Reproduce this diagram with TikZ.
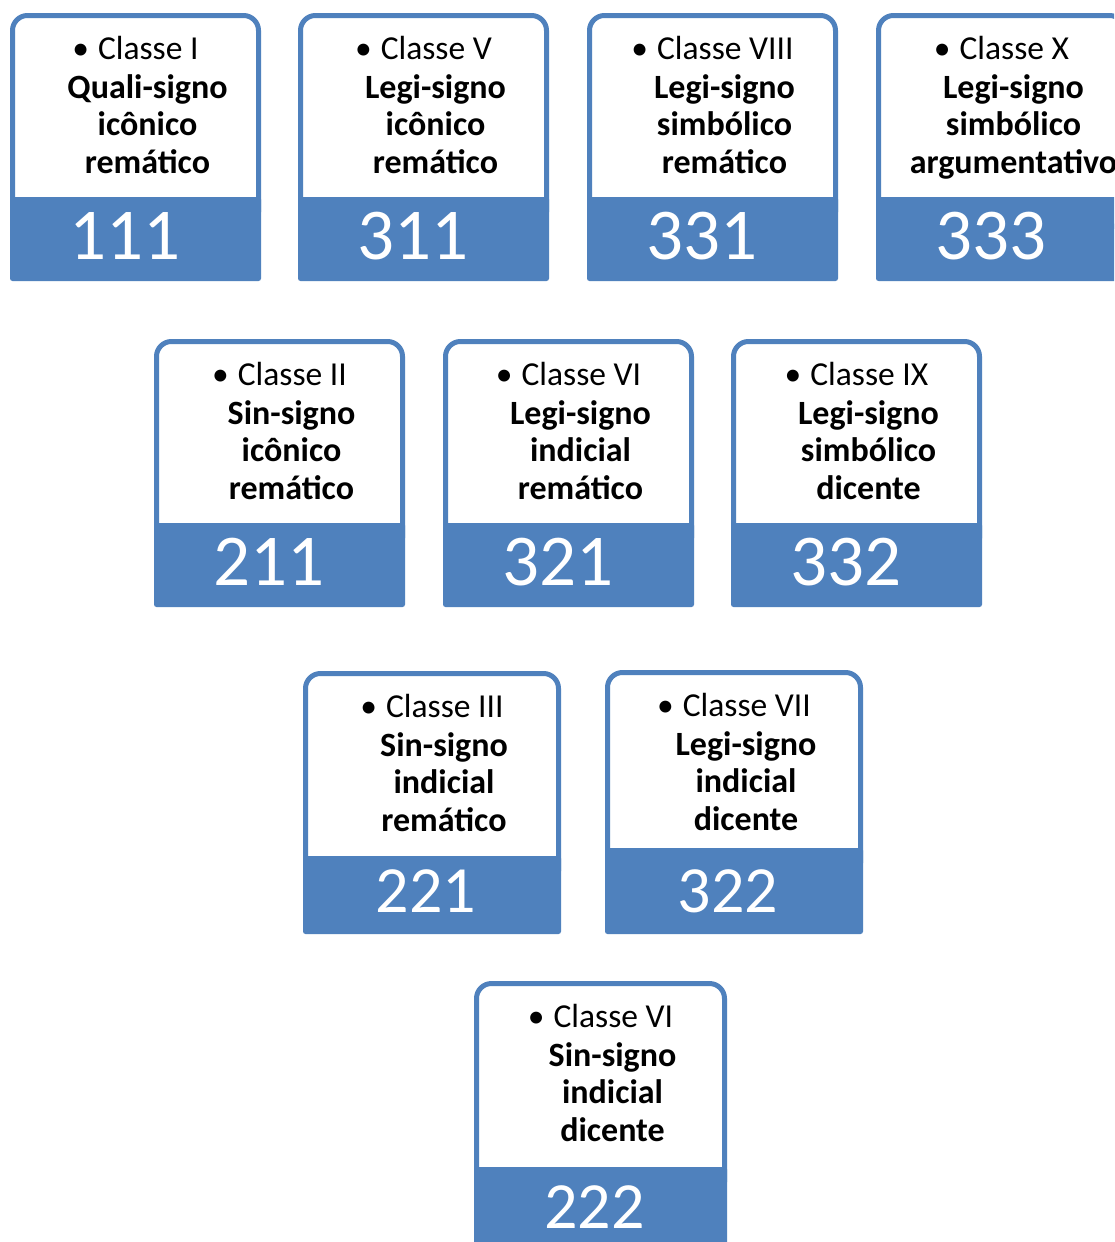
\documentclass[tikz,border=0pt]{standalone}
\usepackage{fontspec}
\setmainfont{Carlito}
\definecolor{accent}{HTML}{4F81BD}
\tikzset{
  frame/.style={draw=accent, line width=5pt, fill=white, rounded corners=15pt},
  band/.style={fill=accent, rounded corners=2.5pt},
  head/.style={anchor=base, font=\fontsize{33.5}{38}\selectfont, inner sep=0pt},
  body/.style={anchor=base, font=\fontsize{34}{38}\selectfont\bfseries, inner sep=0pt},
  num/.style={anchor=base, text=white, inner sep=0pt, font=\fontsize{\numsize}{\numsize}\selectfont},
}
\def\numsize{73}
\def\numy{259}
\def\numdx{-11}
\newcommand\cardbox[6]{%
  \def\cname{#1}\def\cardT{#4}%
  \pgfmathsetmacro\cardX{(#2+#3)/2}%
  \draw[frame] ({#2+2.5},{#4+2.5}) rectangle ({#3-2.5},{#5+30});
  \fill[band] (#2,#5) rectangle (#3,#6);
}
\newcommand\cardtext[5]{%
  \node[head] (\cname-h) at (\cardX,{\cardT+46}) {•\hspace{9pt}#1};
  \node[body] (\cname-a) at ({\cardX+12},{\cardT+85}) {#2};
  \node[body] (\cname-b) at ({\cardX+12},{\cardT+122.5}) {#3};
  \node[body] (\cname-c) at ({\cardX+12},{\cardT+160}) {#4};
  \node[num] (\cname-n) at ({\cardX+\numdx},\numy) {#5};
}
\begin{document}
\begin{tikzpicture}[x=1pt,y=-1pt]
\clip (0,0) rectangle (1114,1242);
\fill[white] (0,0) rectangle (1114,1242);
% row 1
\cardbox{c1}{10}{261}{13}{197}{281}
\cardtext{Classe I}{Quali-signo}{icônico}{remático}{111}
\cardbox{c5}{298}{549}{13}{197}{281}
\cardtext{Classe V}{Legi-signo}{icônico}{remático}{311}
\cardbox{c8}{587}{838}{13}{197}{281}
\cardtext{Classe VIII}{Legi-signo}{simbólico}{remático}{331}
\cardbox{c10}{876}{1127}{13}{197}{281}
\cardtext{Classe X}{Legi-signo}{simbólico}{argumentativo}{333}
% row 2
\def\numy{585}
\cardbox{c2}{154}{405}{339}{523}{607}
\cardtext{Classe II}{Sin-signo}{icônico}{remático}{211}
\cardbox{c6}{443}{694}{339}{523}{607}
\cardtext{Classe VI}{Legi-signo}{indicial}{remático}{321}
\cardbox{c9}{731}{982}{339}{523}{607}
\cardtext{Classe IX}{Legi-signo}{simbólico}{dicente}{332}
% row 3
\def\numy{912}
\def\numdx{-6}
\def\numsize{66}
\cardbox{c3}{303}{561}{671}{856}{934}
\cardtext{Classe III}{Sin-signo}{indicial}{remático}{221}
\cardbox{c7}{605}{863}{670}{848}{934}
\cardtext{Classe VII}{Legi-signo}{indicial}{dicente}{322}
% row 4
\def\numy{1228}
\cardbox{c4}{474}{727}{981}{1167}{1260}
\cardtext{Classe VI}{Sin-signo}{indicial}{dicente}{222}
\end{tikzpicture}
\end{document}
